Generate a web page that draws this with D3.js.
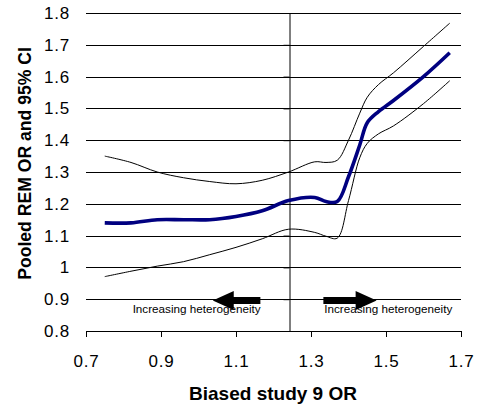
<!DOCTYPE html>
<html>
<head>
<meta charset="utf-8">
<script src="https://cdn.jsdelivr.net/npm/d3@7"></script>
<style>
  html, body { margin: 0; padding: 0; background: #fff; }
  svg { display: block; font-family: "Liberation Sans", Arial, sans-serif; }
</style>
</head>
<body>
<svg id="chart" width="478" height="408"></svg>
<script>
// ---- data ----
const biasedOR = [0.75, 0.82, 0.89, 0.96, 1.03, 1.10, 1.17, 1.24, 1.31, 1.34, 1.37, 1.40, 1.43, 1.45, 1.48, 1.52, 1.60, 1.67];
const pooledOR = [1.14, 1.14, 1.15, 1.15, 1.15, 1.16, 1.178, 1.21, 1.22, 1.207, 1.207, 1.285, 1.385, 1.455, 1.49, 1.525, 1.60, 1.675];
const upperCI  = [1.35, 1.33, 1.30, 1.282, 1.27, 1.263, 1.274, 1.30, 1.332, 1.33, 1.337, 1.40, 1.485, 1.535, 1.575, 1.612, 1.695, 1.768];
const lowerCI  = [0.971, 0.988, 1.004, 1.018, 1.04, 1.063, 1.09, 1.12, 1.11, 1.098, 1.092, 1.21, 1.345, 1.39, 1.42, 1.445, 1.515, 1.587];
const xTicks = [0.7, 0.9, 1.1, 1.3, 1.5, 1.7];
const yTicks = [0.8, 0.9, 1.0, 1.1, 1.2, 1.3, 1.4, 1.5, 1.6, 1.7, 1.8];
const yAxisCross = 1.24;
const arrowLabel = "Increasing heterogeneity";
const arrows = [ {from: 1.165, to: 1.038, y: 0.896, labelX: 0.995}, {from: 1.333, to: 1.475, y: 0.896, labelX: 1.506} ];
const xTitle = "Biased study 9 OR";
const yTitle = "Pooled REM OR and 95% CI";

const svg = d3.select("#chart");
const L = 86, R = 461, T = 13, B = 331;
const x = d3.scaleLinear().domain([0.7, 1.7]).range([L, R]);
const y = d3.scaleLinear().domain([0.8, 1.8]).range([B, T]);
const fmt = d => (d === 1 ? "1" : d3.format(".1f")(d));

// gridlines + y tick labels
const gy = svg.append("g").attr("transform", `translate(${L},0)`)
  .call(d3.axisLeft(y).tickValues(yTicks).tickSizeInner(-(R - L)).tickSizeOuter(0).tickPadding(16).tickFormat(fmt));
gy.select(".domain").remove();
gy.selectAll(".tick line").attr("stroke", "#000").attr("shape-rendering", "crispEdges");
gy.selectAll(".tick text").attr("font-size", 17).attr("fill", "#000").attr("letter-spacing", "0.8px")
  .attr("font-family", "'Liberation Sans', Arial, sans-serif");

// vertical axis crossing at 1.24
const gv = svg.append("g").attr("transform", `translate(${Math.round(x(yAxisCross)) + 0.5},0)`)
  .call(d3.axisLeft(y).tickValues(yTicks).tickSizeInner(6).tickSizeOuter(0).tickFormat(""));
gv.selectAll("path.domain").attr("stroke", "#000");
gv.selectAll(".tick line").attr("stroke", "#000");

// x axis
const gx = svg.append("g").attr("transform", `translate(0,${B})`)
  .call(d3.axisBottom(x).tickValues(xTicks).tickSizeInner(6).tickSizeOuter(0).tickPadding(18).tickFormat(d3.format(".1f")));
gx.selectAll("path.domain").attr("stroke", "#000").attr("shape-rendering", "crispEdges");
gx.selectAll(".tick line").attr("stroke", "#000").attr("shape-rendering", "crispEdges");
gx.selectAll(".tick text").attr("font-size", 17).attr("fill", "#000").attr("letter-spacing", "0.8px")
  .attr("font-family", "'Liberation Sans', Arial, sans-serif");

// lines
const pts = vals => biasedOR.map((d, i) => [d, vals[i]]);
const line = d3.line().x(d => x(d[0])).y(d => y(d[1])).curve(d3.curveCatmullRom.alpha(0.5));
svg.append("path").datum(pts(upperCI)).attr("d", line).attr("fill", "none").attr("stroke", "#000").attr("stroke-width", 1);
svg.append("path").datum(pts(lowerCI)).attr("d", line).attr("fill", "none").attr("stroke", "#000").attr("stroke-width", 1);
svg.append("path").datum(pts(pooledOR)).attr("d", line).attr("fill", "none").attr("stroke", "#000080").attr("stroke-width", 3.6).attr("stroke-linejoin", "round");

// arrows and annotations
arrows.forEach(a => {
  const x0 = x(a.from), x1 = x(a.to), yy = y(a.y);
  const dir = Math.sign(x1 - x0);
  const headLen = 21, headHalf = 9.5, shaftHalf = 3.5;
  const xb = x1 - dir * headLen;
  const p = [[x0, yy - shaftHalf], [xb, yy - shaftHalf], [xb, yy - headHalf], [x1, yy], [xb, yy + headHalf], [xb, yy + shaftHalf], [x0, yy + shaftHalf]];
  svg.append("path").attr("d", d3.line()(p) + "Z").attr("fill", "#000");
  svg.append("text").attr("x", x(a.labelX)).attr("y", yy + 13)
    .attr("text-anchor", "middle").attr("font-size", 11.7).attr("fill", "#000").text(arrowLabel);
});

// axis titles
svg.append("text").attr("x", 273).attr("y", 400).attr("text-anchor", "middle")
  .attr("font-size", 19).attr("font-weight", "bold").attr("fill", "#000").text(xTitle);
svg.append("text").attr("transform", `translate(31,163.5) rotate(-90)`).attr("text-anchor", "middle")
  .attr("font-size", 17.6).attr("font-weight", "bold").attr("fill", "#000").text(yTitle);
</script>
</body>
</html>
